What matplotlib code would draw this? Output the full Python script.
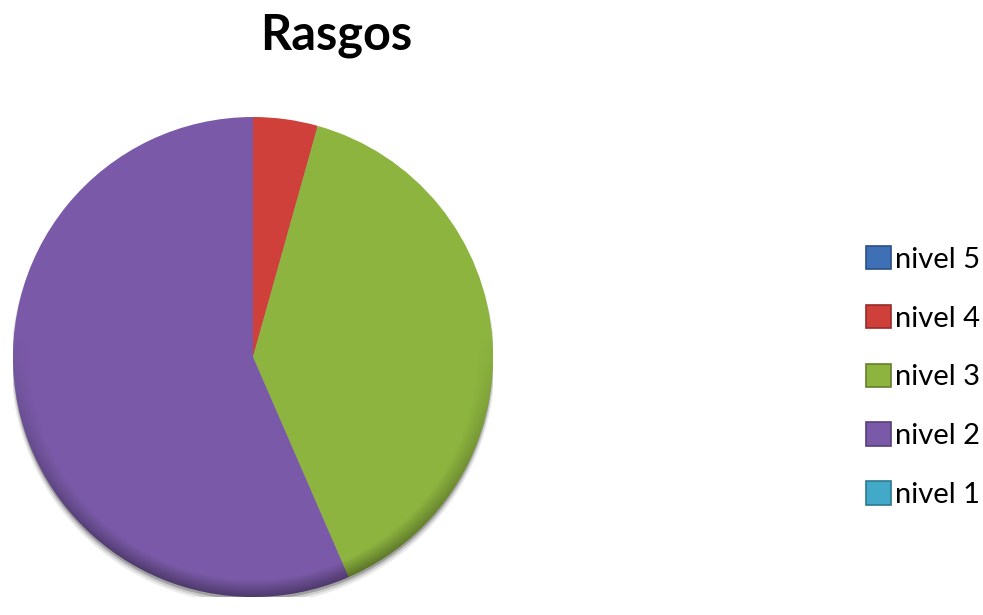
import matplotlib
matplotlib.use("Agg")
import matplotlib.pyplot as plt
import numpy as np
from matplotlib.patches import Patch, Circle

plt.rcParams['font.family'] = ['Lato', 'DejaVu Sans']

title = "Rasgos"
categories = ["nivel 5", "nivel 4", "nivel 3", "nivel 2", "nivel 1"]
values = [0, 1, 9, 13, 0]
colors = ["#3f6fb5", "#d0403b", "#8db43f", "#7a5aa8", "#42aac8"]
edge_colors = ["#2b4f85", "#962c28", "#647f2c", "#563f78", "#2e7890"]

W, H = 983, 615
fig = plt.figure(figsize=(W / 100, H / 100), dpi=100)
fig.patch.set_facecolor("white")

cx, cy, r = 253, 357, 240
ax = fig.add_axes([(cx - r) / W, (H - cy - r) / H, 2 * r / W, 2 * r / H])
ax.axis("off")

# soft shadow under the pie
for i, a in enumerate([0.08, 0.12, 0.22]):
    ax.add_patch(Circle((0.0, -0.012 - 0.006 * (2 - i)), 1.0 + 0.004 * (2 - i),
                        color="black", alpha=a, zorder=0, lw=0))

wedges, _ = ax.pie(values, colors=colors, startangle=90, counterclock=False,
                   radius=1.0, center=(0, 0),
                   wedgeprops=dict(linewidth=0, edgecolor="none"), frame=False)

# darker rim toward the bottom edge (3-D look)
n = 400
g = np.linspace(-1, 1, n)
X, Y = np.meshgrid(g, g)
R = np.sqrt(X ** 2 + Y ** 2)
alpha = 0.35 * np.clip((R - 0.93) / 0.07, 0, 1) * np.clip(-Y + 0.1, 0, 1)
rgba = np.zeros((n, n, 4))
rgba[..., 3] = alpha
im = ax.imshow(rgba, extent=(-1, 1, -1, 1), origin="lower", zorder=5)
clip = Circle((0, 0), 1.0, transform=ax.transData)
im.set_clip_path(clip)

ax.set_xlim(-1, 1)
ax.set_ylim(-1, 1)
ax.set_aspect("equal")

fig.text(336 / W, 1 - 50 / H, title, ha="center", va="baseline",
         fontsize=35, fontweight="bold", color="black")

handles = [Patch(facecolor=c, edgecolor=e, linewidth=1.2, label=l)
           for c, e, l in zip(colors, edge_colors, categories)]
fig.legend(handles=handles, loc="center left",
           bbox_to_anchor=(866 / W, 1 - 377 / H), frameon=False,
           fontsize=21, handlelength=0.85, handleheight=0.85, handletextpad=0.15,
           labelspacing=1.1, borderpad=0, borderaxespad=0)

fig.savefig("out.png", dpi=100, facecolor="white")
